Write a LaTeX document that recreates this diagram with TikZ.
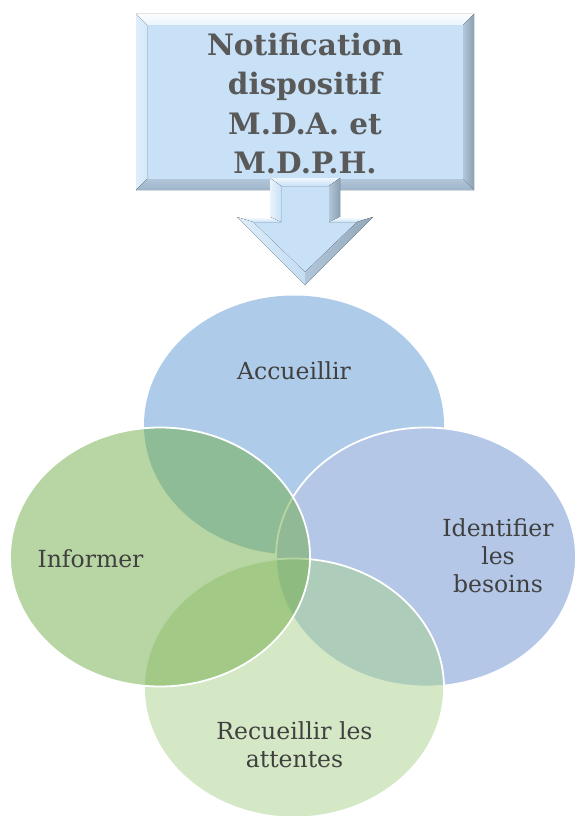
\documentclass[tikz,border=0pt]{standalone}
\usepackage{fontspec}
\setmainfont{DejaVu Serif}
\usetikzlibrary{shapes.geometric}
\definecolor{boxface}{RGB}{200,225,247}
\definecolor{bevtop}{RGB}{234,244,252}
\definecolor{bevleft}{RGB}{214,233,250}
\definecolor{bevright}{RGB}{140,160,180}
\definecolor{bevrightin}{RGB}{178,198,218}
\definecolor{bevbot}{RGB}{158,180,200}
\definecolor{accblue}{RGB}{174,204,233}
\definecolor{idfblue}{RGB}{180,199,231}
\definecolor{recgreen}{RGB}{169,209,142}
\definecolor{vgreen}{RGB}{112,173,71}
\definecolor{titlegray}{RGB}{89,89,89}
\definecolor{textgray}{RGB}{64,64,64}
\begin{document}
\begin{tikzpicture}[x=1pt,y=-1pt,
  venn/.style={ellipse, minimum width=300pt, minimum height=259pt, inner sep=0pt,
    draw=white, line width=1.8pt},
  lbl/.style={text=textgray, align=center, inner sep=0pt,
    font=\fontsize{23.5}{28}\selectfont},
  ttl/.style={text=titlegray, align=center, inner sep=0pt,
    font=\fontsize{29.5}{39.5}\selectfont\bfseries}]
\useasboundingbox (0,0) rectangle (575,816);
% ---- top beveled box
\fill[boxface] (136,14) rectangle (474,190);
\fill[top color=white!80!bevtop, bottom color=bevtop] (136,14) -- (474,14) -- (463,25) -- (147,25) -- cycle;
\fill[left color=bevleft!80!white, right color=bevleft] (136,14) -- (147,25) -- (147,179) -- (136,190) -- cycle;
\fill[left color=bevrightin, right color=bevright] (474,14) -- (474,190) -- (463,179) -- (463,25) -- cycle;
\fill[top color=bevrightin, bottom color=bevbot] (136,190) -- (474,190) -- (463,179) -- (147,179) -- cycle;
\node[ttl] (title) at (305,106.35) {\strut Notification\\\strut dispositif\\\strut M.D.A. et\\\strut M.D.P.H.};
% ---- block arrow
\fill[boxface] (270,178) -- (340,178) -- (340,217) -- (373,217) -- (305,285) -- (237,217) -- (270,217) -- cycle;
\fill[top color=white!70!boxface, bottom color=boxface] (270,178) -- (340,178) -- (329,186) -- (281,186) -- cycle;
\fill[left color=white!60!boxface, right color=boxface] (270,178) -- (281,186) -- (281,222) -- (270,217) -- cycle;
\fill[left color=bevrightin, right color=bevright] (340,178) -- (340,217) -- (329,222) -- (329,186) -- cycle;
\fill[top color=white, bottom color=boxface] (237,217) -- (270,217) -- (281,222) -- (253,222) -- cycle;
\fill[top color=white, bottom color=boxface] (340,217) -- (373,217) -- (357,222) -- (329,222) -- cycle;
\fill[left color=white!40!boxface, right color=boxface!85!bevrightin] (237,217) -- (253,222) -- (305,272) -- (305,285) -- cycle;
\fill[left color=bevrightin, right color=bevright!80!bevrightin] (373,217) -- (357,222) -- (305,272) -- (305,285) -- cycle;
% ---- Venn ellipses
\node[venn, fill=accblue, draw=none] (acc) at (294,425) {};
\node[venn, fill=idfblue] (idf) at (426,557) {};
\node[venn, fill=recgreen, fill opacity=0.5] (rec) at (294,688) {};
\node[venn, fill=vgreen, fill opacity=0.5] (inf) at (160,557) {};
% ---- labels
\node[lbl] (accl) at (294,373.4) {\strut Accueillir};
\node[lbl] (infl) at (90.5,561.4) {\strut Informer};
\node[lbl] (idfl) at (498,558.9) {\strut Identifier\\\strut les\\\strut besoins};
\node[lbl] (recl) at (294.5,747.4) {\strut Recueillir les\\\strut attentes};
\end{tikzpicture}
\end{document}
